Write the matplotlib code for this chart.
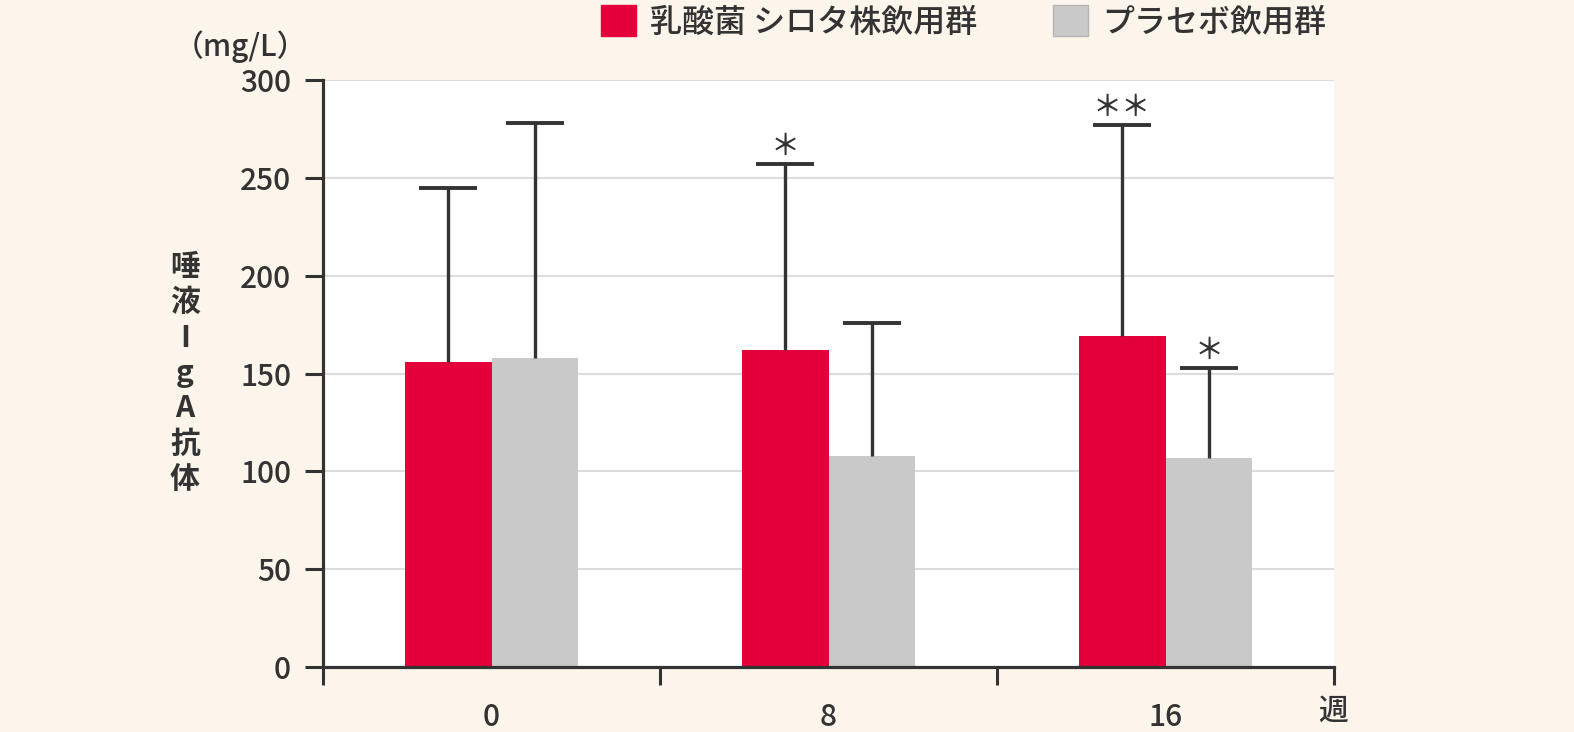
import matplotlib
matplotlib.use("Agg")
import matplotlib.pyplot as plt
from matplotlib.patches import Patch
import numpy as np

plt.rcParams['font.family'] = ['Noto Sans CJK JP', 'DejaVu Sans']
plt.rcParams['font.weight'] = 'medium'

weeks = ["0", "8", "16"]
series_names = ["乳酸菌 シロタ株飲用群", "プラセボ飲用群"]
shirota_mean = [156, 162, 169]
shirota_sd = [89, 95, 108]
placebo_mean = [158, 108, 107]
placebo_sd = [120, 68, 46]
shirota_sig = ["", "＊", "＊＊"]
placebo_sig = ["", "", "＊"]
yticks = [0, 50, 100, 150, 200, 250, 300]

BG = "#FBF5EC"
RED = "#E4003A"
GRAY = "#C9C9C9"
INK = "#333333"
FS = 21.5

fig = plt.figure(figsize=(15.74, 7.32), dpi=100, facecolor=BG)
ax = fig.add_axes([323/1574, 65/732, 1011/1574, 587/732])
ax.set_facecolor("white")

x = np.arange(len(weeks)) + 0.5
w = 0.258
ax.bar(x - w/2, shirota_mean, w, color=RED, zorder=2, label=series_names[0])
ax.bar(x + w/2, placebo_mean, w, color=GRAY, zorder=2, label=series_names[1])

def upper_err(xs, means, sds):
    tops = np.array(means) + np.array(sds)
    ax.vlines(xs, means, tops, color=INK, linewidth=2.4, zorder=3)
    ax.plot(xs, tops, linestyle="none", marker="_", markersize=42,
            markeredgewidth=2.8, color=INK, zorder=3)
    return tops

tops_r = upper_err(x - w/2, shirota_mean, shirota_sd)
tops_p = upper_err(x + w/2, placebo_mean, placebo_sd)

for xi, t, s in zip(x - w/2, tops_r, shirota_sig):
    if s:
        ax.text(xi, t + 1, s, ha="center", va="bottom", fontsize=21, color=INK)
for xi, t, s in zip(x + w/2, tops_p, placebo_sig):
    if s:
        ax.text(xi, t + 1, s, ha="center", va="bottom", fontsize=21, color=INK)

ax.set_xlim(0, 3)
ax.set_ylim(0, 300)
ax.set_yticks(yticks)
ax.set_yticklabels([str(v) for v in yticks], fontsize=FS, color=INK)
ax.yaxis.grid(True, color="#DDDDDD", linewidth=1.5, zorder=0)
ax.set_axisbelow(True)
ax.tick_params(axis="y", length=13, width=2.2, color=INK, pad=10)

ax.set_xticks(x)
ax.set_xticklabels(weeks, fontsize=FS, color=INK)
ax.set_xticks([0, 1, 2, 3], minor=True)
ax.tick_params(axis="x", which="major", length=0, pad=25)
ax.tick_params(axis="x", which="minor", length=13, width=2.2, color=INK)

for sp in ["top", "right"]:
    ax.spines[sp].set_visible(False)
for sp in ["left", "bottom"]:
    ax.spines[sp].set_color(INK)
    ax.spines[sp].set_linewidth(2.3)

fig.text(240/1574, 1 - 47/732, "（mg/L）", ha="center", va="center", fontsize=FS, color=INK)
fig.text(185/1574, 1 - 373/732, "\n".join("唾液IgA抗体"), ha="center", va="center",
         fontsize=FS, color=INK, fontweight="bold", linespacing=1.22)
fig.text(1333/1574, 1 - 711/732, "週", ha="center", va="center", fontsize=FS, color=INK)

handles = [Patch(facecolor=RED, edgecolor=RED), Patch(facecolor=GRAY, edgecolor="#B5B5B5")]
fig.legend(handles, series_names, loc="upper left", bbox_to_anchor=(572/1574, 1.032),
           ncol=2, frameon=False, fontsize=23, handlelength=1.1, handleheight=1.1,
           handletextpad=0.45, columnspacing=2.35, labelcolor=INK)

fig.savefig("out.png", dpi=100, facecolor=BG)
